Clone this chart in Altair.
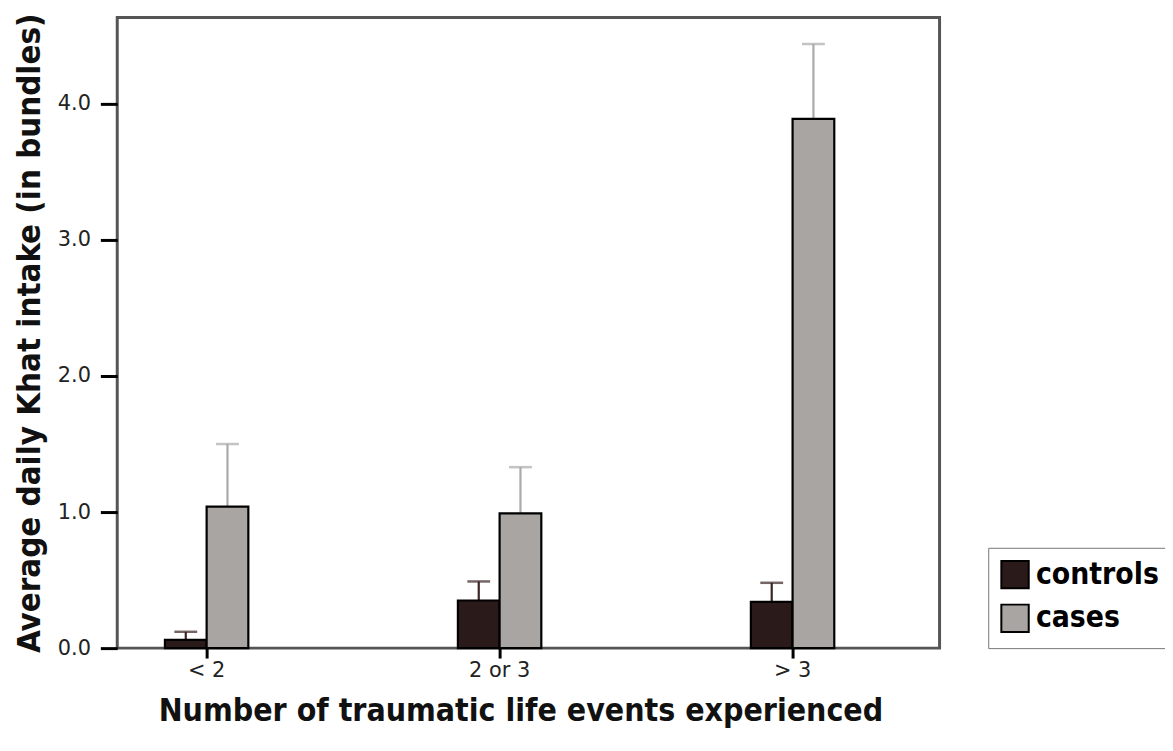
import altair as alt
import pandas as pd

categories = ["< 2", "2 or 3", "> 3"]
groups = ["controls", "cases"]
controls_mean = [0.06, 0.35, 0.34]
controls_upper = [0.12, 0.49, 0.48]
cases_mean = [1.04, 0.99, 3.89]
cases_upper = [1.50, 1.33, 4.44]

rows = []
for i, c in enumerate(categories):
    rows.append({"cat": c, "group": "controls", "mean": controls_mean[i], "upper": controls_upper[i]})
    rows.append({"cat": c, "group": "cases", "mean": cases_mean[i], "upper": cases_upper[i]})
df = pd.DataFrame(rows)

TITLE_FONT = "DejaVu Sans Condensed, DejaVu Sans, sans-serif"
LABEL_FONT = "DejaVu Sans, sans-serif"

x_enc = alt.X(
    "cat:N",
    sort=categories,
    scale=alt.Scale(range=[-57.5, 827.5], paddingInner=0, paddingOuter=0),
    axis=alt.Axis(
        title="Number of traumatic life events experienced",
        titleFont=TITLE_FONT, titleFontSize=32, titleFontWeight="bold", titleColor="#111",
        titleX=406, titleY=63, titleBaseline="middle", titleAlign="center",
        labelFont=LABEL_FONT, labelFontSize=21, labelColor="#222", labelAngle=0,
        labelPadding=2, domain=False, ticks=True, tickColor="#000", tickWidth=3, tickSize=10,
        grid=False,
    ),
)
xo = alt.XOffset("group:N", sort=groups,
                 scale=alt.Scale(domain=groups, range=[105.5, 189.5], paddingInner=0, paddingOuter=0))

color_scale = alt.Scale(domain=groups, range=["#2b1a1a", "#a9a5a3"])

y_scale = alt.Scale(domain=[0, 4.635], nice=False, zero=True)
y_axis = alt.Axis(
    title="Average daily Khat intake (in bundles)",
    titleFont=TITLE_FONT, titleFontSize=33, titleFontWeight="bold", titleColor="#111",
    titleX=-88, titleY=317.5, titleBaseline="middle", titleAlign="center", titleAngle=270,
    values=[0, 1, 2, 3, 4], format=".1f",
    labelFont=LABEL_FONT, labelFontSize=21, labelColor="#222", labelPadding=10,
    domain=False, tickColor="#000", tickWidth=3, tickSize=17, grid=False,
)

base = alt.Chart(df)

bars = base.mark_bar(stroke="#000", strokeWidth=2.2).encode(
    x=x_enc,
    xOffset=xo,
    y=alt.Y("mean:Q", scale=y_scale, axis=y_axis),
    color=alt.Color(
        "group:N", scale=color_scale, sort=groups,
        legend=alt.Legend(
            title=None, orient="none", legendX=877, legendY=534,
            symbolType="square", symbolSize=760, symbolStrokeColor="#000", symbolStrokeWidth=2,
            labelFont=TITLE_FONT, labelFontSize=30, labelFontWeight="bold", labelColor="#000",
            labelOffset=6, rowPadding=8, padding=12, strokeColor="#777", fillColor="#fff",
            labelLimit=300,
        ),
    ),
)

err_color = alt.condition(alt.datum.group == "controls", alt.value("#3a2424"), alt.value("#aaaaaa"))

rules = base.mark_rule(strokeWidth=2.2).encode(
    x=x_enc, xOffset=xo,
    y=alt.Y("mean:Q", scale=y_scale),
    y2="upper:Q",
    color=err_color,
)
caps = base.mark_tick(thickness=2.5, size=23).encode(
    x=x_enc, xOffset=xo,
    y=alt.Y("upper:Q", scale=y_scale),
    color=err_color,
)

chart = alt.layer(rules, caps, bars).properties(
    width=828, height=635,
    background="#ffffff",
    autosize=alt.AutoSizeParams(type="none"),
    padding={"left": 110, "top": 7, "right": 227, "bottom": 93},
).configure_view(stroke="#555", strokeWidth=3)

chart.save("out.html", embed_options={"renderer": "svg", "actions": False})
